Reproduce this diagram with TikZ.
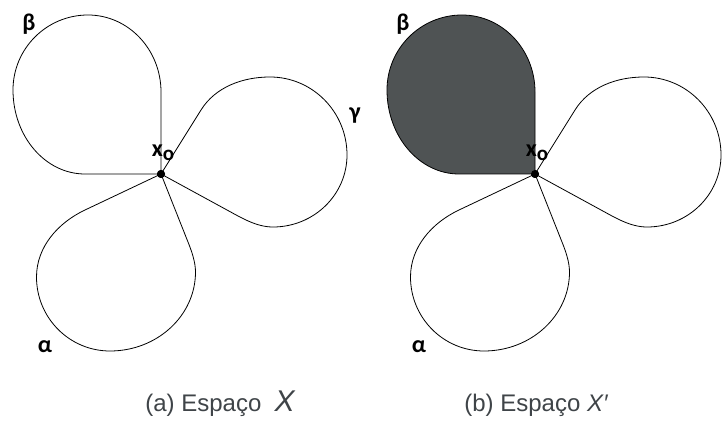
\documentclass[tikz,border=0pt]{standalone}
\usepackage{fontspec}
\setmainfont{Liberation Sans}
\newfontfamily\lblfont{Carlito}
\definecolor{capgray}{HTML}{3F4448}
\definecolor{fillgray}{HTML}{4F5354}
\begin{document}
\begin{tikzpicture}[x=1pt,y=1pt,
  loopline/.style={draw=black, line width=0.8pt, line join=round},
  dot/.style={circle, fill=black, inner sep=0pt, minimum size=8pt},
  lbl/.style={font=\lblfont\bfseries\fontsize{24}{24}\selectfont, inner sep=0pt},
  captext/.style={font=\fontsize{24}{24}\selectfont, text=capgray, inner sep=0pt, anchor=base}]
\useasboundingbox (0,0) rectangle (723,-443);
\fill[white] (0,0) rectangle (723,-443);
\foreach \s/\n/\fc in {0/a/none,374/b/fillgray}{
  \begin{scope}[xshift=\s pt]
    \node[dot] (x0\n) at (161,-174) {};
    % beta
    \path[loopline, fill=\fc] (x0\n.center) -- (161,-92)
      arc[start angle=0,end angle=90,x radius=73,y radius=77]
      arc[start angle=90,end angle=180,x radius=75,y radius=75]
      arc[start angle=180,end angle=270,x radius=72,y radius=84] -- cycle;
    % gamma
    \draw[loopline] (x0\n.center) -- (201,-110)
      .. controls (215.4,-86.9) and (242.8,-77) .. (270,-77)
      arc[start angle=90,end angle=0,x radius=77,y radius=78]
      arc[start angle=0,end angle=-90,x radius=74,y radius=72]
      .. controls (256.4,-227) and (241.6,-217.9) .. (227,-210) -- cycle;
    % alpha
    \draw[loopline] (x0\n.center) -- (85,-210)
      .. controls (57.9,-222.8) and (36.5,-247) .. (36.5,-277)
      arc[start angle=180,end angle=270,x radius=73.5,y radius=74]
      arc[start angle=270,end angle=360,x radius=85.5,y radius=79]
      .. controls (195.5,-262) and (191.7,-251.3) .. (188,-242) -- cycle;
    \node[dot] at (x0\n.center) {};
    \node[lbl] (beta\n) at (29,-24) {β};
    \node[lbl] (gamma\n) at (355,-116) {γ};
    \node[lbl] (alpha\n) at (45,-347) {α};
    \node[lbl] (xo\n) at (163,-153) {x\raisebox{-0.3ex}{\fontsize{21}{21}\selectfont o}};
  \end{scope}
}
\node[captext] (capa) at (220,-412) {(a) Espaço\hspace{0.55em}{\itshape\fontsize{30}{30}\selectfont X}};
\node[captext] (capb) at (536,-412) {(b) Espaço {\itshape X′}};
\end{tikzpicture}
\end{document}
